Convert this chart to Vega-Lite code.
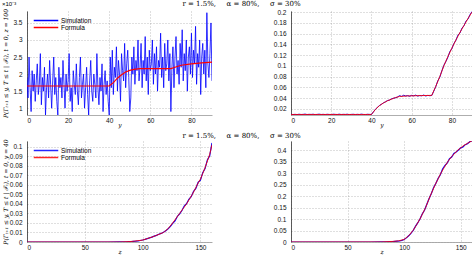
{
  "$schema": "https://vega.github.io/schema/vega-lite/v6.json",
  "padding": {"left": 2, "top": 0, "right": 0, "bottom": 0},
  "background": "white",
  "config": {
    "view": {"stroke": null},
    "axis": {"labelFont": "Liberation Sans", "labelFontSize": 6.5, "labelColor": "#111", "ticks": false, "labelPadding": 5, "gridDash": [1, 2], "gridColor": "#777", "gridOpacity": 0.8, "gridWidth": 0.6, "domainColor": "#333", "domainWidth": 0.8, "titleFont": "DejaVu Serif", "titleFontStyle": "italic", "titleFontWeight": "normal", "titleFontSize": 6, "titleColor": "#000"},
    "axisX": {"domainColor": "#999", "titlePadding": -2, "labelPadding": 2},
    "axisY": {"minExtent": 16, "maxExtent": 16, "titlePadding": 3},
    "legend": {"orient": "top-left", "offset": 6, "symbolType": "stroke", "symbolSize": 600, "symbolStrokeWidth": 1.5, "clipHeight": 7, "labelFont": "Liberation Sans", "labelFontSize": 6.5, "rowPadding": 0, "labelOffset": 2, "padding": 0, "title": null},
    "title": {"font": "DejaVu Serif", "fontSize": 7, "fontWeight": "normal", "color": "#000", "offset": 2}
  },
  "datasets": {
    "tl_sim": [
      {"x":0,"y":0.0019},{"x":0.5,"y":0.0013},{"x":1,"y":0.0025},{"x":1.5,"y":0.0016},{"x":2,"y":0.0009},{"x":2.5,"y":0.0021},{"x":3,"y":0.0015},{"x":3.5,"y":0.002},{"x":4,"y":0.0012},{"x":4.5,"y":0.0018},
      {"x":5,"y":0.0023},{"x":5.5,"y":0.0014},{"x":6,"y":0.0017},{"x":6.5,"y":0.0026},{"x":7,"y":0.0011},{"x":7.5,"y":0.0019},{"x":8,"y":0.0015},{"x":8.5,"y":0.0022},{"x":9,"y":0.0008},{"x":9.5,"y":0.0016},
      {"x":10,"y":0.002},{"x":10.5,"y":0.0013},{"x":11,"y":0.0024},{"x":11.5,"y":0.0017},{"x":12,"y":0.001},{"x":12.5,"y":0.0018},{"x":13,"y":0.0025},{"x":13.5,"y":0.0014},{"x":14,"y":0.0019},{"x":14.5,"y":0.0012},
      {"x":15,"y":0.0008},{"x":15.5,"y":0.0022},{"x":16,"y":0.0016},{"x":16.5,"y":0.0019},{"x":17,"y":0.0013},{"x":17.5,"y":0.0024},{"x":18,"y":0.0017},{"x":18.5,"y":0.001},{"x":19,"y":0.002},{"x":19.5,"y":0.0015},
      {"x":20,"y":0.0018},{"x":20.5,"y":0.0026},{"x":21,"y":0.0012},{"x":21.5,"y":0.0016},{"x":22,"y":0.0009},{"x":22.5,"y":0.0021},{"x":23,"y":0.0017},{"x":23.5,"y":0.0014},{"x":24,"y":0.0023},{"x":24.5,"y":0.0015},
      {"x":25,"y":0.0011},{"x":25.5,"y":0.0019},{"x":26,"y":0.0025},{"x":26.5,"y":0.0013},{"x":27,"y":0.0017},{"x":27.5,"y":0.002},{"x":28,"y":0.001},{"x":28.5,"y":0.0016},{"x":29,"y":0.0022},{"x":29.5,"y":0.0014},
      {"x":30,"y":0.0008},{"x":30.5,"y":0.0018},{"x":31,"y":0.0024},{"x":31.5,"y":0.0015},{"x":32,"y":0.0012},{"x":32.5,"y":0.002},{"x":33,"y":0.0017},{"x":33.5,"y":0.0013},{"x":34,"y":0.0026},{"x":34.5,"y":0.0016},
      {"x":35,"y":0.0011},{"x":35.5,"y":0.0019},{"x":36,"y":0.0015},{"x":36.5,"y":0.0023},{"x":37,"y":0.0009},{"x":37.5,"y":0.0017},{"x":38,"y":0.0021},{"x":38.5,"y":0.0014},{"x":39,"y":0.0018},{"x":39.5,"y":0.0012},
      {"x":40,"y":0.0008},{"x":40.5,"y":0.0025},{"x":41,"y":0.0016},{"x":41.5,"y":0.0027},{"x":42,"y":0.0014},{"x":42.5,"y":0.0022},{"x":43,"y":0.0019},{"x":43.5,"y":0.0028},{"x":44,"y":0.0015},{"x":44.5,"y":0.0024},
      {"x":45,"y":0.002},{"x":45.5,"y":0.0012},{"x":46,"y":0.0026},{"x":46.5,"y":0.0021},{"x":47,"y":0.0018},{"x":47.5,"y":0.0029},{"x":48,"y":0.0016},{"x":48.5,"y":0.0023},{"x":49,"y":0.0027},{"x":49.5,"y":0.0019},
      {"x":50,"y":0.0009},{"x":50.5,"y":0.0013},{"x":51,"y":0.0025},{"x":51.5,"y":0.002},{"x":52,"y":0.0028},{"x":52.5,"y":0.0017},{"x":53,"y":0.0024},{"x":53.5,"y":0.0021},{"x":54,"y":0.003},{"x":54.5,"y":0.0018},
      {"x":55,"y":0.0022},{"x":55.5,"y":0.0029},{"x":56,"y":0.0016},{"x":56.5,"y":0.0024},{"x":57,"y":0.002},{"x":57.5,"y":0.0031},{"x":58,"y":0.0018},{"x":58.5,"y":0.0025},{"x":59,"y":0.0014},{"x":59.5,"y":0.0027},
      {"x":60,"y":0.0021},{"x":60.5,"y":0.0023},{"x":61,"y":0.003},{"x":61.5,"y":0.0017},{"x":62,"y":0.0026},{"x":62.5,"y":0.002},{"x":63,"y":0.0028},{"x":63.5,"y":0.0015},{"x":64,"y":0.0024},{"x":64.5,"y":0.0022},
      {"x":65,"y":0.0032},{"x":65.5,"y":0.0019},{"x":66,"y":0.0025},{"x":66.5,"y":0.0016},{"x":67,"y":0.0029},{"x":67.5,"y":0.0021},{"x":68,"y":0.0023},{"x":68.5,"y":0.003},{"x":69,"y":0.0018},{"x":69.5,"y":0.0026},
      {"x":70,"y":0.0009},{"x":70.5,"y":0.0022},{"x":71,"y":0.0028},{"x":71.5,"y":0.0016},{"x":72,"y":0.0025},{"x":72.5,"y":0.0031},{"x":73,"y":0.002},{"x":73.5,"y":0.0024},{"x":74,"y":0.0017},{"x":74.5,"y":0.0029},
      {"x":75,"y":0.0022},{"x":75.5,"y":0.0033},{"x":76,"y":0.0018},{"x":76.5,"y":0.0026},{"x":77,"y":0.0021},{"x":77.5,"y":0.003},{"x":78,"y":0.0015},{"x":78.5,"y":0.0025},{"x":79,"y":0.0028},{"x":79.5,"y":0.002},
      {"x":80,"y":0.0032},{"x":80.5,"y":0.0019},{"x":81,"y":0.0027},{"x":81.5,"y":0.0023},{"x":82,"y":0.0034},{"x":82.5,"y":0.0017},{"x":83,"y":0.0026},{"x":83.5,"y":0.0022},{"x":84,"y":0.003},{"x":84.5,"y":0.0014},
      {"x":85,"y":0.0025},{"x":85.5,"y":0.0029},{"x":86,"y":0.002},{"x":86.5,"y":0.0027},{"x":87,"y":0.0016},{"x":87.5,"y":0.0038},{"x":88,"y":0.0023},{"x":88.5,"y":0.0019},{"x":89,"y":0.0026},{"x":89.5,"y":0.0035},{"x":90,"y":0.0018}
    ],
    "tl_formula": [
      {"x":0,"y":0.00165},{"x":40,"y":0.00165},{"x":42,"y":0.00175},{"x":44,"y":0.00188},{"x":46,"y":0.00198},{"x":48,"y":0.00206},{"x":50,"y":0.00211},{"x":52,"y":0.00214},{"x":55,"y":0.00216},{"x":70,"y":0.00216},{"x":72,"y":0.0022},{"x":75,"y":0.00226},{"x":80,"y":0.0023},{"x":85,"y":0.00233},{"x":90,"y":0.00235}
    ],
    "tr_sim": [
      {"x":0,"y":0.0098},{"x":1,"y":0.0093},{"x":2,"y":0.0097},{"x":3,"y":0.0092},{"x":4,"y":0.0099},{"x":5,"y":0.0094},{"x":6,"y":0.0096},{"x":7,"y":0.0101},{"x":8,"y":0.0093},{"x":9,"y":0.0097},
      {"x":10,"y":0.0095},{"x":11,"y":0.0099},{"x":12,"y":0.0092},{"x":13,"y":0.0096},{"x":14,"y":0.01},{"x":15,"y":0.0094},{"x":16,"y":0.0097},{"x":17,"y":0.0093},{"x":18,"y":0.0098},{"x":19,"y":0.0095},
      {"x":20,"y":0.0092},{"x":21,"y":0.0099},{"x":22,"y":0.0096},{"x":23,"y":0.0094},{"x":24,"y":0.01},{"x":25,"y":0.0093},{"x":26,"y":0.0097},{"x":27,"y":0.0095},{"x":28,"y":0.0099},{"x":29,"y":0.0092},
      {"x":30,"y":0.0096},{"x":31,"y":0.0098},{"x":32,"y":0.0093},{"x":33,"y":0.0097},{"x":34,"y":0.0094},{"x":35,"y":0.01},{"x":36,"y":0.0095},{"x":37,"y":0.0092},{"x":38,"y":0.0098},{"x":39,"y":0.0096},
      {"x":40,"y":0.0094},{"x":41,"y":0.0145},{"x":42,"y":0.0192},{"x":43,"y":0.0228},{"x":44,"y":0.0262},{"x":45,"y":0.0285},{"x":46,"y":0.0312},{"x":47,"y":0.033},{"x":48,"y":0.0355},{"x":49,"y":0.0362},
      {"x":50,"y":0.0385},{"x":51,"y":0.0398},{"x":52,"y":0.0405},{"x":53,"y":0.042},{"x":54,"y":0.0445},{"x":55,"y":0.043},{"x":56,"y":0.0452},{"x":57,"y":0.0438},{"x":58,"y":0.0446},{"x":59,"y":0.0433},
      {"x":60,"y":0.0451},{"x":61,"y":0.044},{"x":62,"y":0.0455},{"x":63,"y":0.0437},{"x":64,"y":0.0448},{"x":65,"y":0.0442},{"x":66,"y":0.0456},{"x":67,"y":0.0439},{"x":68,"y":0.045},{"x":69,"y":0.0444},
      {"x":70,"y":0.0448},{"x":71,"y":0.053},{"x":72,"y":0.0615},{"x":73,"y":0.072},{"x":74,"y":0.079},{"x":75,"y":0.0905},{"x":76,"y":0.101},{"x":77,"y":0.108},{"x":78,"y":0.116},{"x":79,"y":0.1265},
      {"x":80,"y":0.132},{"x":81,"y":0.1415},{"x":82,"y":0.1475},{"x":83,"y":0.157},{"x":84,"y":0.161},{"x":85,"y":0.17},{"x":86,"y":0.1745},{"x":87,"y":0.183},{"x":88,"y":0.187},{"x":89,"y":0.195},{"x":90,"y":0.201}
    ],
    "tr_formula": [
      {"x":0,"y":0.0095},{"x":40,"y":0.0095},{"x":42,"y":0.019},{"x":44,"y":0.026},{"x":46,"y":0.031},{"x":48,"y":0.035},{"x":50,"y":0.038},{"x":52,"y":0.041},{"x":54,"y":0.043},{"x":58,"y":0.044},{"x":70,"y":0.045},{"x":72,"y":0.062},{"x":74,"y":0.08},{"x":76,"y":0.1},{"x":78,"y":0.117},{"x":80,"y":0.133},{"x":82,"y":0.148},{"x":84,"y":0.162},{"x":86,"y":0.175},{"x":88,"y":0.188},{"x":90,"y":0.2}
    ],
    "bl_sim": [
      {"x":0,"y":0},{"x":10,"y":0},{"x":20,"y":0},{"x":30,"y":0},{"x":40,"y":0},{"x":50,"y":0},{"x":60,"y":0},{"x":70,"y":0},{"x":80,"y":0.0001},{"x":82,"y":0.0001},
      {"x":84,"y":0.0001},{"x":86,"y":0.0002},{"x":88,"y":0.0003},{"x":90,"y":0.0004},{"x":92,"y":0.0007},{"x":94,"y":0.0009},{"x":96,"y":0.0012},{"x":98,"y":0.0016},{"x":100,"y":0.0021},{"x":102,"y":0.0028},
      {"x":104,"y":0.0036},{"x":106,"y":0.0044},{"x":108,"y":0.0051},{"x":110,"y":0.0062},{"x":112,"y":0.007},{"x":114,"y":0.0081},{"x":116,"y":0.009},{"x":118,"y":0.0102},{"x":120,"y":0.0118},{"x":122,"y":0.0138},
      {"x":124,"y":0.0165},{"x":126,"y":0.0196},{"x":128,"y":0.0221},{"x":130,"y":0.0268},{"x":132,"y":0.0296},{"x":134,"y":0.033},{"x":136,"y":0.0378},{"x":138,"y":0.0402},{"x":140,"y":0.0448},{"x":142,"y":0.0475},
      {"x":144,"y":0.053},{"x":146,"y":0.0562},{"x":148,"y":0.0625},{"x":150,"y":0.065},{"x":152,"y":0.0728},{"x":154,"y":0.077},{"x":156,"y":0.0862},{"x":158,"y":0.0905},{"x":160,"y":0.104}
    ],
    "bl_formula": [
      {"x":0,"y":0},{"x":80,"y":0},{"x":90,"y":0.0005},{"x":100,"y":0.002},{"x":105,"y":0.004},{"x":110,"y":0.006},{"x":115,"y":0.0085},{"x":118,"y":0.01},{"x":122,"y":0.014},{"x":126,"y":0.02},{"x":129,"y":0.025},{"x":132,"y":0.03},{"x":135,"y":0.035},{"x":138,"y":0.04},{"x":141,"y":0.046},{"x":143,"y":0.05},{"x":146,"y":0.057},{"x":148,"y":0.062},{"x":150,"y":0.066},{"x":152,"y":0.072},{"x":154,"y":0.078},{"x":156,"y":0.085},{"x":158,"y":0.092},{"x":160,"y":0.102}
    ],
    "br_sim": [
      {"x":0,"y":0},{"x":10,"y":0},{"x":20,"y":0},{"x":30,"y":0},{"x":40,"y":0},{"x":50,"y":0},{"x":60,"y":0},{"x":70,"y":0},{"x":80,"y":0.0003},{"x":84,"y":0.0008},
      {"x":88,"y":0.0015},{"x":90,"y":0.002},{"x":92,"y":0.0028},{"x":94,"y":0.0038},{"x":96,"y":0.005},{"x":98,"y":0.007},{"x":100,"y":0.0105},{"x":102,"y":0.018},{"x":104,"y":0.027},{"x":106,"y":0.038},
      {"x":108,"y":0.05},{"x":110,"y":0.068},{"x":112,"y":0.083},{"x":114,"y":0.1},{"x":116,"y":0.122},{"x":118,"y":0.138},{"x":120,"y":0.163},{"x":122,"y":0.188},{"x":124,"y":0.21},{"x":126,"y":0.236},
      {"x":128,"y":0.255},{"x":130,"y":0.277},{"x":132,"y":0.293},{"x":134,"y":0.318},{"x":136,"y":0.333},{"x":138,"y":0.343},{"x":140,"y":0.362},{"x":142,"y":0.37},{"x":144,"y":0.386},{"x":146,"y":0.392},
      {"x":148,"y":0.401},{"x":150,"y":0.41},{"x":152,"y":0.414},{"x":154,"y":0.424},{"x":156,"y":0.428},{"x":158,"y":0.437},{"x":160,"y":0.441}
    ],
    "br_formula": [
      {"x":0,"y":0},{"x":80,"y":0.0002},{"x":90,"y":0.0025},{"x":95,"y":0.005},{"x":100,"y":0.011},{"x":104,"y":0.027},{"x":108,"y":0.051},{"x":111,"y":0.075},{"x":114,"y":0.1},{"x":117,"y":0.13},{"x":119,"y":0.15},{"x":121,"y":0.175},{"x":123,"y":0.2},{"x":125,"y":0.222},{"x":127.5,"y":0.25},{"x":130,"y":0.275},{"x":132.5,"y":0.3},{"x":135.5,"y":0.325},{"x":138.6,"y":0.35},{"x":142,"y":0.372},{"x":147.4,"y":0.4},{"x":152,"y":0.418},{"x":156,"y":0.43},{"x":160,"y":0.441}
    ]
  },
  "columns": 2,
  "bounds": "flush",
  "spacing": {"row": 26, "column": 79},
  "resolve": {"scale": {"color": "independent"}, "legend": {"color": "independent"}},
  "concat": [
    {
      "width": 185, "height": 104,
      "title": {"text": "×10⁻³", "anchor": "start", "font": "Liberation Sans", "fontSize": 6},
      "encoding": {
        "x": {"field": "x", "type": "quantitative", "scale": {"domain": [0, 90], "nice": false, "zero": false}, "axis": {"values": [0, 20, 40, 60, 80], "title": "y"}},
        "y": {"field": "y", "type": "quantitative", "scale": {"domain": [0.0008, 0.00385], "nice": false, "zero": false}, "axis": {"values": [0.001, 0.0015, 0.002, 0.0025, 0.003, 0.0035], "labelExpr": "format(datum.value * 1000, '.1~f')", "title": "P(Γₜ₊₁ ≤ y, T ≤ t | ℱₜ), t = 0, z = 100"}}
      },
      "layer": [
        {"data": {"name": "tl_sim"}, "mark": {"type": "line", "strokeWidth": 0.8, "clip": true}, "encoding": {"color": {"datum": "Simulation", "type": "nominal", "scale": {"domain": ["Simulation", "Formula"], "range": ["#0000ff", "#ff0000"]}}}},
        {"data": {"name": "tl_formula"}, "mark": {"type": "line", "strokeWidth": 1.2, "clip": true}, "encoding": {"color": {"datum": "Formula", "type": "nominal"}}}
      ]
    },
    {
      "width": 181, "height": 104,
      "title": {"text": "r = 1.5%,\u2003\u2002α = 80%,\u2003\u2002σ = 30%", "anchor": "middle", "dx": -140},
      "encoding": {
        "x": {"field": "x", "type": "quantitative", "scale": {"domain": [0, 90], "nice": false, "zero": false}, "axis": {"values": [0, 20, 40, 60, 80], "title": "y"}},
        "y": {"field": "y", "type": "quantitative", "scale": {"domain": [0.0085, 0.202], "nice": false, "zero": false}, "axis": {"values": [0.02, 0.04, 0.06, 0.08, 0.1, 0.12, 0.14, 0.16, 0.18, 0.2], "format": ".2~f", "title": null}}
      },
      "layer": [
        {"data": {"name": "tr_sim"}, "mark": {"type": "line", "strokeWidth": 1, "clip": true}, "encoding": {"color": {"datum": "Simulation", "type": "nominal", "scale": {"domain": ["Simulation", "Formula"], "range": ["#0000ff", "#ff0000"]}, "legend": null}}},
        {"data": {"name": "tr_formula"}, "mark": {"type": "line", "strokeWidth": 1, "clip": true, "opacity": 0.85}, "encoding": {"color": {"datum": "Formula", "type": "nominal", "legend": null}}}
      ]
    },
    {
      "width": 185, "height": 101,
      "encoding": {
        "x": {"field": "x", "type": "quantitative", "scale": {"domain": [0, 160], "nice": false, "zero": false}, "axis": {"values": [0, 50, 100, 150], "title": "z"}},
        "y": {"field": "y", "type": "quantitative", "scale": {"domain": [0, 0.106], "nice": false, "zero": false}, "axis": {"values": [0, 0.01, 0.02, 0.03, 0.04, 0.05, 0.06, 0.07, 0.08, 0.09, 0.1], "format": ".2~f", "title": "P(Γₜ₊₁ ≤ y, T ≤ t | ℱₜ), t = 0, y = 40"}}
      },
      "layer": [
        {"data": {"name": "bl_sim"}, "mark": {"type": "line", "strokeWidth": 1.2, "clip": true}, "encoding": {"color": {"datum": "Simulation", "type": "nominal", "scale": {"domain": ["Simulation", "Formula"], "range": ["#0000ff", "#ff0000"]}}}},
        {"data": {"name": "bl_formula"}, "mark": {"type": "line", "strokeWidth": 1, "clip": true, "opacity": 0.85}, "encoding": {"color": {"datum": "Formula", "type": "nominal"}}}
      ]
    },
    {
      "width": 181, "height": 101,
      "title": {"text": "r = 1.5%,\u2003\u2002α = 80%,\u2003\u2002σ = 30%", "anchor": "middle", "dx": -140},
      "encoding": {
        "x": {"field": "x", "type": "quantitative", "scale": {"domain": [0, 160], "nice": false, "zero": false}, "axis": {"values": [0, 50, 100, 150], "title": "z"}},
        "y": {"field": "y", "type": "quantitative", "scale": {"domain": [0, 0.44], "nice": false, "zero": false}, "axis": {"values": [0, 0.05, 0.1, 0.15, 0.2, 0.25, 0.3, 0.35, 0.4], "format": ".2~f", "title": null}}
      },
      "layer": [
        {"data": {"name": "br_sim"}, "mark": {"type": "line", "strokeWidth": 1.2, "clip": true}, "encoding": {"color": {"datum": "Simulation", "type": "nominal", "scale": {"domain": ["Simulation", "Formula"], "range": ["#0000ff", "#ff0000"]}, "legend": null}}},
        {"data": {"name": "br_formula"}, "mark": {"type": "line", "strokeWidth": 1, "clip": true, "opacity": 0.85}, "encoding": {"color": {"datum": "Formula", "type": "nominal", "legend": null}}}
      ]
    }
  ]
}
